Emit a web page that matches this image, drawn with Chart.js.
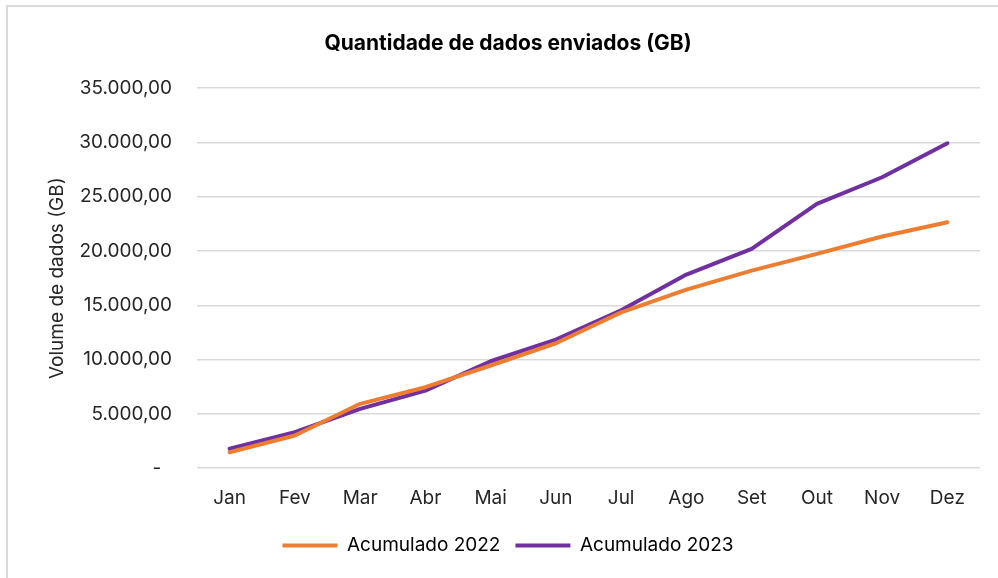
<!DOCTYPE html>
<html lang="pt">

<head>
    <meta charset="UTF-8">
    <title>Quantidade de dados enviados</title>
    <script src="https://cdn.jsdelivr.net/npm/chart.js"></script>
    <style>
        html, body {
            margin: 0;
            padding: 0;
            background: #ffffff;
            overflow: hidden;
        }

        .frame {
            position: absolute;
            left: 6px;
            top: 5px;
            width: 1100px;
            height: 700px;
            border: 2px solid #d9d9d9;
        }

        .wrap {
            position: absolute;
            left: 0;
            top: 0;
            width: 998px;
            height: 578px;
        }
    </style>
</head>

<body>
    <div class="frame"></div>
    <div class="wrap"><canvas id="chart"></canvas></div>

    <script>
        // Dados
        const meses = ['Jan', 'Fev', 'Mar', 'Abr', 'Mai', 'Jun', 'Jul', 'Ago', 'Set', 'Out', 'Nov', 'Dez'];
        const acumulado2022 = [1470, 3010, 5930, 7460, 9460, 11510, 14350, 16450, 18200, 19740, 21340, 22650];
        const acumulado2023 = [1790, 3320, 5470, 7150, 9850, 11850, 14550, 17830, 20200, 24350, 26800, 29930];
        const yMax = 35000;
        const yStep = 5000;

        const fontFamily = 'Inter, "Noto Sans", sans-serif';

        // formato pt-BR: 35.000,00, zero vira "-"
        function fmt(v) {
            if (v === 0) return '-  ';
            const parts = v.toFixed(2).split('.');
            return parts[0].replace(/\B(?=(\d{3})+(?!\d))/g, '.') + ',' + parts[1];
        }

        const ctx = document.getElementById('chart').getContext('2d');

        new Chart(ctx, {
            type: 'line',
            data: {
                labels: meses,
                datasets: [{
                    label: 'Acumulado 2022',
                    data: acumulado2022,
                    borderColor: '#ed7d31',
                    backgroundColor: '#ed7d31',
                    borderWidth: 4,
                    borderCapStyle: 'round',
                    borderJoinStyle: 'round',
                    pointRadius: 0,
                    tension: 0
                }, {
                    label: 'Acumulado 2023',
                    data: acumulado2023,
                    borderColor: '#7030a0',
                    backgroundColor: '#7030a0',
                    borderWidth: 4,
                    borderCapStyle: 'round',
                    borderJoinStyle: 'round',
                    pointRadius: 0,
                    tension: 0
                }]
            },
            options: {
                responsive: true,
                maintainAspectRatio: false,
                animation: false,
                layout: {
                    padding: { left: 36, right: 18, top: 31, bottom: 13 }
                },
                plugins: {
                    title: {
                        display: true,
                        text: 'Quantidade de dados enviados (GB)',
                        color: '#000000',
                        font: { family: fontFamily, size: 21, weight: 'bold' },
                        padding: { top: 0, bottom: 32 }
                    },
                    legend: {
                        position: 'bottom',
                        labels: {
                            color: '#000000',
                            font: { family: fontFamily, size: 19 },
                            usePointStyle: true,
                            pointStyle: 'line',
                            pointStyleWidth: 55,
                            padding: 15
                        }
                    },
                    tooltip: { enabled: false }
                },
                scales: {
                    x: {
                        offset: true,
                        grid: { display: false },
                        border: { display: false },
                        ticks: {
                            color: '#262626',
                            font: { family: fontFamily, size: 19 },
                            padding: 11
                        }
                    },
                    y: {
                        min: 0,
                        max: yMax,
                        afterFit: function (scale) { scale.width = 161; },
                        grid: { color: '#d9d9d9', lineWidth: 1.5, drawTicks: false },
                        border: { display: false },
                        ticks: {
                            stepSize: yStep,
                            color: '#262626',
                            font: { family: fontFamily, size: 19 },
                            padding: 25,
                            callback: function (value) { return fmt(value); }
                        },
                        title: {
                            display: true,
                            text: 'Volume de dados (GB)',
                            color: '#262626',
                            font: { family: fontFamily, size: 19 },
                            padding: { top: 10, bottom: 0 }
                        }
                    }
                }
            }
        });
    </script>
</body>

</html>
